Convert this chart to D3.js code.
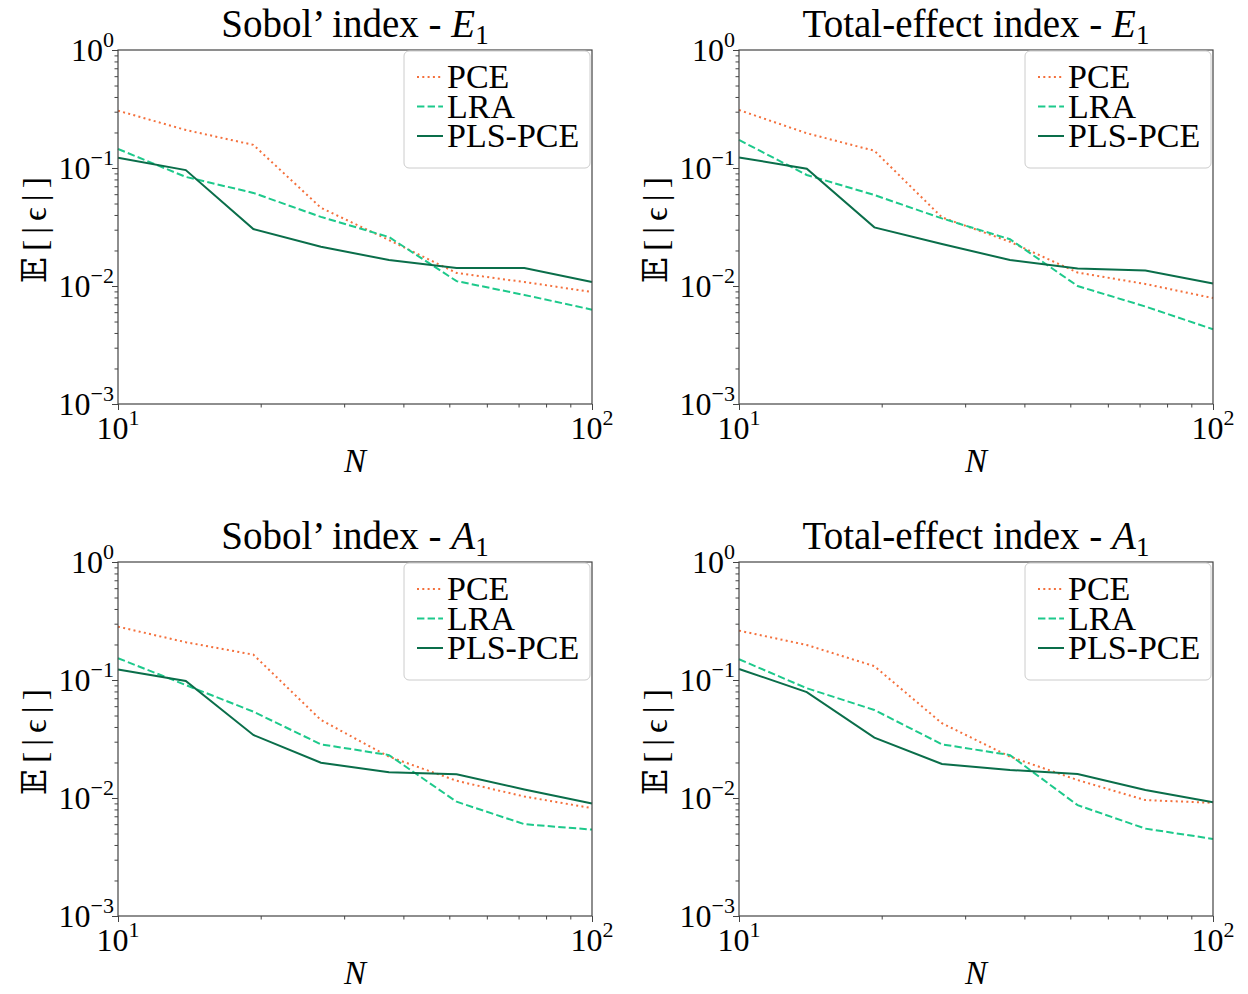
<html><head>
<meta charset="utf-8">
<script src="https://d3js.org/d3.v7.min.js"></script>
<style>
  body { margin: 0; background: #fff; }
  text { font-family: "Liberation Serif", "DejaVu Serif", serif; fill: #000; }
  .spine { stroke: #444; stroke-width: 1.2px; fill: none; }
  .axis path { display: none; }
  .axis line { stroke: #444; stroke-width: 1px; }
</style>
</head>
<body>
<svg id="fig" width="1248" height="994"></svg>
<script>

// sample sizes N (log-spaced between 10 and 100)
const nValues = [10, 13.9, 19.3, 26.8, 37.3, 51.8, 72.0, 100];

// Sobol' index - E1
const sobolE1Pce = [0.306, 0.21, 0.157, 0.046, 0.0245, 0.0129, 0.0108, 0.0089];
const sobolE1Lra = [0.145, 0.084, 0.0615, 0.0385, 0.026, 0.011, 0.0084, 0.0063];
const sobolE1Pls = [0.122, 0.096, 0.0304, 0.0215, 0.0166, 0.0142, 0.0142, 0.0108];

// Total-effect index - E1
const totalE1Pce = [0.31, 0.197, 0.14, 0.0382, 0.0237, 0.013, 0.0104, 0.0079];
const totalE1Lra = [0.173, 0.0873, 0.059, 0.0374, 0.0249, 0.01, 0.0067, 0.0043];
const totalE1Pls = [0.123, 0.0987, 0.0314, 0.0227, 0.0166, 0.0141, 0.0135, 0.0105];

// Sobol' index - A1
const sobolA1Pce = [0.283, 0.209, 0.164, 0.0458, 0.0224, 0.014, 0.0103, 0.0082];
const sobolA1Lra = [0.153, 0.0907, 0.0539, 0.0285, 0.0231, 0.0093, 0.006, 0.0054];
const sobolA1Pls = [0.123, 0.098, 0.0342, 0.0199, 0.0165, 0.0159, 0.0118, 0.009];

// Total-effect index - A1
const totalA1Pce = [0.262, 0.198, 0.131, 0.043, 0.0224, 0.0142, 0.0096, 0.0091];
const totalA1Lra = [0.15, 0.0851, 0.0557, 0.0285, 0.0231, 0.0087, 0.0055, 0.0045];
const totalA1Pls = [0.124, 0.079, 0.0325, 0.0194, 0.0173, 0.016, 0.0117, 0.0092];

const seriesNames = ["PCE", "LRA", "PLS-PCE"];
const seriesColors = ["#f4703c", "#1dc98b", "#0a6e4a"];
const seriesDash = ["2,3.3", "7.4,3.2", null];

const xTicks = [10, 100];
const xExp = ["1", "2"];
const yTicks = [1, 0.1, 0.01, 0.001];
const yExp = ["0", "\u22121", "\u22122", "\u22123"];

const panels = [
  { title: "Sobol\u2019 index - ", sym: "E", left: 118, top: 50,  series: [sobolE1Pce, sobolE1Lra, sobolE1Pls] },
  { title: "Total-effect index - ", sym: "E", left: 739, top: 50,  series: [totalE1Pce, totalE1Lra, totalE1Pls] },
  { title: "Sobol\u2019 index - ", sym: "A", left: 118, top: 562, series: [sobolA1Pce, sobolA1Lra, sobolA1Pls] },
  { title: "Total-effect index - ", sym: "A", left: 739, top: 562, series: [totalA1Pce, totalA1Lra, totalA1Pls] }
];

const svg = d3.select("#fig");
const plotW = 474, plotH = 354;

// minor ticks for log axes
const xMinor = d3.range(2, 10).map(d => d * 10);
const yMinor = [];
[0.001, 0.01, 0.1].forEach(b => d3.range(2, 10).forEach(k => yMinor.push(b * k)));

panels.forEach(p => {
  const x = d3.scaleLog().domain([10, 100]).range([0, plotW]);
  const y = d3.scaleLog().domain([0.001, 1]).range([plotH, 0]);
  const g = svg.append("g").attr("transform", "translate(" + p.left + "," + p.top + ")");

  // ticks
  g.append("g").attr("class", "axis").attr("transform", "translate(0," + plotH + ")")
    .call(d3.axisBottom(x).tickValues(xTicks).tickSize(6).tickFormat(""));
  g.append("g").attr("class", "axis").attr("transform", "translate(0," + plotH + ")")
    .call(d3.axisBottom(x).tickValues(xMinor).tickSize(3.5).tickFormat(""));
  g.append("g").attr("class", "axis")
    .call(d3.axisLeft(y).tickValues(yTicks).tickSize(6).tickFormat(""));
  g.append("g").attr("class", "axis")
    .call(d3.axisLeft(y).tickValues(yMinor).tickSize(3.5).tickFormat(""));

  // tick labels with exponents
  xTicks.forEach((t, i) => {
    const tx = g.append("text").attr("x", x(t)).attr("y", plotH + 35)
      .attr("text-anchor", "middle").style("font-size", "32px");
    tx.append("tspan").text("10");
    tx.append("tspan").attr("dy", -14).style("font-size", "22px").text(xExp[i]);
  });
  yTicks.forEach((t, i) => {
    const ty = g.append("text").attr("x", -4).attr("y", y(t) + 11)
      .attr("text-anchor", "end").style("font-size", "32px");
    ty.append("tspan").text("10");
    ty.append("tspan").attr("dy", -14).style("font-size", "22px").text(yExp[i]);
  });

  // lines
  const line = d3.line().x((d, i) => x(nValues[i])).y(d => y(d));
  p.series.forEach((vals, s) => {
    g.append("path").datum(vals)
      .attr("d", line)
      .attr("fill", "none")
      .attr("stroke", seriesColors[s])
      .attr("stroke-width", 2)
      .attr("stroke-dasharray", seriesDash[s]);
  });

  // frame
  g.append("rect").attr("class", "spine").attr("width", plotW).attr("height", plotH);

  // title
  const tt = g.append("text").attr("x", plotW / 2).attr("y", -13)
    .attr("text-anchor", "middle").style("font-size", "39px");
  tt.append("tspan").text(p.title);
  tt.append("tspan").style("font-style", "italic").text(p.sym);
  tt.append("tspan").attr("dy", 7).style("font-size", "27px").text("1");

  // axis labels
  g.append("text").attr("x", plotW / 2).attr("y", plotH + 68)
    .attr("text-anchor", "middle").style("font-size", "33px").style("font-style", "italic").text("N");
  g.append("text").attr("transform", "translate(-72," + plotH / 2 + ") rotate(-90)")
    .attr("text-anchor", "middle").style("font-size", "34px").style("letter-spacing", "6px")
    .text("\uD835\uDD3C[|\u03F5|]");

  // legend
  const lg = g.append("g").attr("transform", "translate(" + (plotW - 188) + ",1)");
  lg.append("rect").attr("width", 186).attr("height", 117).attr("rx", 5)
    .attr("fill", "#fff").attr("fill-opacity", 0.8).attr("stroke", "#cccccc").attr("stroke-width", 1);
  seriesNames.forEach((name, s) => {
    const cy = 26 + s * 29.5;
    lg.append("line").attr("x1", 13).attr("x2", 39).attr("y1", cy).attr("y2", cy)
      .attr("stroke", seriesColors[s]).attr("stroke-width", 2)
      .attr("stroke-dasharray", seriesDash[s]);
    lg.append("text").attr("x", 43).attr("y", cy + 11).style("font-size", "34px").text(name);
  });
});

</script>
</body>
</html>
